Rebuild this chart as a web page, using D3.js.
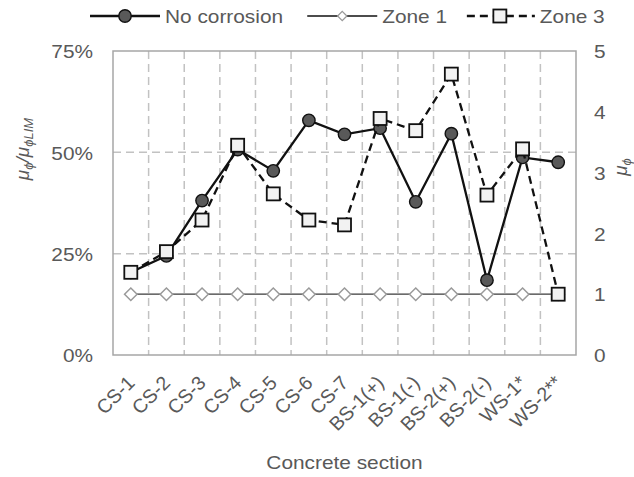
<!DOCTYPE html>
<html>
<head>
<meta charset="utf-8">
<script src="https://cdn.jsdelivr.net/npm/d3@7"></script>
<style>
  body { margin: 0; background: #fff; }
  text { font-family: "Liberation Sans", Arial, sans-serif; fill: #595959; }
</style>
</head>
<body>
<svg id="chart" width="634" height="477"></svg>
<script>
// Concrete sections along the x axis
const sections = ["CS-1", "CS-2", "CS-3", "CS-4", "CS-5", "CS-6", "CS-7",
                  "BS-1(+)", "BS-1(-)", "BS-2(+)", "BS-2(-)", "WS-1*", "WS-2**"];

// Ductility μϕ per section (right axis); left axis shows μϕ/μϕLIM with μϕLIM = 1/0.15
const noCorrosion = [1.36, 1.63, 2.54, 3.38, 3.03, 3.86, 3.63, 3.73, 2.52, 3.64, 1.23, 3.25, 3.17];
const zone1       = [1.00, 1.00, 1.00, 1.00, 1.00, 1.00, 1.00, 1.00, 1.00, 1.00, 1.00, 1.00, 1.00];
const zone3       = [1.36, 1.70, 2.22, 3.45, 2.65, 2.22, 2.14, 3.89, 3.69, 4.62, 2.63, 3.39, 1.00];

const leftTicks  = [0, 0.25, 0.5, 0.75];
const rightTicks = [0, 1, 2, 3, 4, 5];
const seriesNames = ["No corrosion", "Zone 1", "Zone 3"];

const W = 634, H = 477;
const m = { top: 51, right: 58, bottom: 122, left: 113 };
const svg = d3.select("#chart");

const x = d3.scaleBand().domain(sections).range([m.left, W - m.right]);
const yMu = d3.scaleLinear().domain([0, 5]).range([H - m.bottom, m.top]);
const yPct = d3.scaleLinear().domain([0, 0.75]).range([H - m.bottom, m.top]);

const TXT = 18.6, STRETCH = 1.12;
function widen(sel) {
  sel.each(function () {
    const w = this.getComputedTextLength();
    this.setAttribute("textLength", w * STRETCH);
    this.setAttribute("lengthAdjust", "spacingAndGlyphs");
  });
}

// Grid
const grid = svg.append("g");
grid.selectAll("line.h").data([0.25, 0.5]).join("line")
  .attr("x1", m.left).attr("x2", W - m.right)
  .attr("y1", d => yPct(d)).attr("y2", d => yPct(d))
  .attr("stroke", "#c2c2c2").attr("stroke-width", 1.5).attr("stroke-dasharray", "8,5");
grid.selectAll("line.v").data(sections.slice(1)).join("line")
  .attr("x1", d => x(d)).attr("x2", d => x(d))
  .attr("y1", m.top).attr("y2", H - m.bottom)
  .attr("stroke", "#c2c2c2").attr("stroke-width", 1.5).attr("stroke-dasharray", "8,5");

// Plot frame
svg.append("rect")
  .attr("x", m.left).attr("y", m.top)
  .attr("width", W - m.left - m.right).attr("height", H - m.top - m.bottom)
  .attr("fill", "none").attr("stroke", "#a6a6a6").attr("stroke-width", 1.5);

// Left axis
const gl = svg.append("g").attr("transform", `translate(${m.left},0)`)
  .call(d3.axisLeft(yPct).tickValues(leftTicks).tickFormat(d3.format(".0%")).tickSize(0).tickPadding(20));
gl.select(".domain").remove();
gl.selectAll("text").attr("font-size", TXT).attr("font-family", null).attr("dy", "0.36em").call(widen);

// Right axis
const gr = svg.append("g").attr("transform", `translate(${W - m.right},0)`)
  .call(d3.axisRight(yMu).tickValues(rightTicks).tickFormat(d3.format("d")).tickSize(0).tickPadding(18));
gr.select(".domain").remove();
gr.selectAll("text").attr("font-size", TXT).attr("font-family", null).attr("dy", "0.36em").call(widen);

// Bottom axis with rotated labels
const gb = svg.append("g").attr("transform", `translate(0,${H - m.bottom})`)
  .call(d3.axisBottom(x).tickSize(0).tickPadding(0));
gb.select(".domain").remove();
gb.selectAll("text")
  .attr("font-size", 19.5).attr("font-family", null)
  .attr("text-anchor", "end").attr("y", 0).attr("dy", 0)
  .attr("transform", "translate(5,29) rotate(-45)");

// Axis titles
svg.append("text").attr("x", (m.left + W - m.right) / 2).attr("y", 469)
  .attr("text-anchor", "middle").attr("font-size", TXT).text("Concrete section").call(widen);

const lt = svg.append("text").attr("transform", "translate(29,149) rotate(-90)")
  .attr("text-anchor", "middle").attr("font-size", 19).attr("font-style", "italic");
lt.append("tspan").text("μ");
lt.append("tspan").attr("font-size", 13).attr("dy", 4).text("ϕ");
lt.append("tspan").attr("dy", -4).text("/μ");
lt.append("tspan").attr("font-size", 13).attr("dy", 4).text("ϕLIM");

const rt = svg.append("text").attr("transform", "translate(627,167) rotate(-90)")
  .attr("text-anchor", "middle").attr("font-size", 19).attr("font-style", "italic");
rt.append("tspan").text("μ");
rt.append("tspan").attr("font-size", 13).attr("dy", 4).text("ϕ");

// Series
const cx = d => x(d) + x.bandwidth() / 2;
const line = d3.line().x(d => cx(d.s)).y(d => yMu(d.v));
const pts = arr => arr.map((v, i) => ({ s: sections[i], v }));

const diamond = d3.symbol().type(d3.symbolDiamond2).size(100);

// Zone 1
svg.append("path").datum(pts(zone1)).attr("d", line)
  .attr("fill", "none").attr("stroke", "#3a3a3a").attr("stroke-width", 1.3);
svg.append("g").selectAll("path").data(pts(zone1)).join("path")
  .attr("d", diamond).attr("transform", d => `translate(${cx(d.s)},${yMu(d.v)})`)
  .attr("fill", "#fff").attr("stroke", "#9a9a9a").attr("stroke-width", 1.5);

// No corrosion
svg.append("path").datum(pts(noCorrosion)).attr("d", line)
  .attr("fill", "none").attr("stroke", "#111").attr("stroke-width", 2.3);
svg.append("g").selectAll("circle").data(pts(noCorrosion)).join("circle")
  .attr("cx", d => cx(d.s)).attr("cy", d => yMu(d.v)).attr("r", 6.2)
  .attr("fill", "#595959").attr("stroke", "#111").attr("stroke-width", 1.4);

// Zone 3
svg.append("path").datum(pts(zone3)).attr("d", line)
  .attr("fill", "none").attr("stroke", "#111").attr("stroke-width", 2.3).attr("stroke-dasharray", "8,5");
svg.append("g").selectAll("rect").data(pts(zone3)).join("rect")
  .attr("x", d => cx(d.s) - 6.5).attr("y", d => yMu(d.v) - 6.5)
  .attr("width", 13).attr("height", 13)
  .attr("fill", "#f2f2f2").attr("stroke", "#111").attr("stroke-width", 1.8);

// Legend
const lg = svg.append("g");
let lx = 90;
const ly = 16;
seriesNames.forEach((name, i) => {
  const g = lg.append("g");
  const l = g.append("line").attr("x1", lx).attr("x2", lx + 70).attr("y1", ly).attr("y2", ly)
    .attr("stroke", "#111").attr("stroke-width", i === 1 ? 1.3 : 2.3);
  if (i === 2) l.attr("stroke-dasharray", "8,5").attr("x1", lx + 2);
  const mx = lx + 35;
  if (i === 0) g.append("circle").attr("cx", mx).attr("cy", ly).attr("r", 6.2)
    .attr("fill", "#595959").attr("stroke", "#111").attr("stroke-width", 1.4);
  if (i === 1) g.append("path").attr("d", d3.symbol().type(d3.symbolDiamond2).size(55))
    .attr("transform", `translate(${mx},${ly})`).attr("fill", "#fff").attr("stroke", "#9a9a9a").attr("stroke-width", 1.3);
  if (i === 2) g.append("rect").attr("x", mx - 6.5).attr("y", ly - 6.5).attr("width", 13).attr("height", 13)
    .attr("fill", "#f2f2f2").attr("stroke", "#111").attr("stroke-width", 1.8);
  const t = g.append("text").attr("x", lx + 75).attr("y", ly).attr("dy", "0.36em")
    .attr("font-size", TXT).text(name).call(widen);
  lx += 75 + t.node().getComputedTextLength() * STRETCH + 10;
});
</script>
</body>
</html>
